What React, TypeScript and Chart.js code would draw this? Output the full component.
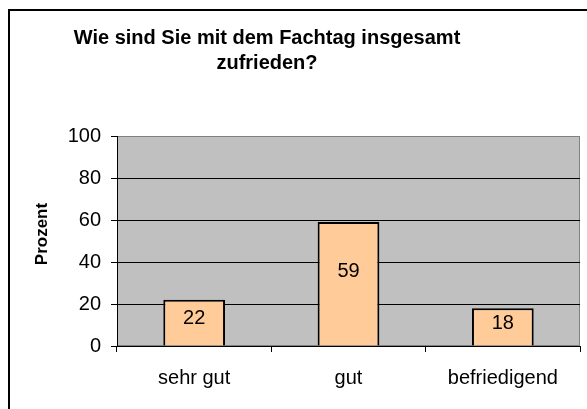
import React, { useEffect, useRef } from "react";
import { Chart, registerables } from "chart.js";

Chart.register(...registerables);

const categories = ["sehr gut", "gut", "befriedigend"];
const values = [22, 59, 18];
const yTickValues = [0, 20, 40, 60, 80, 100];
const titleLines = ["Wie sind Sie mit dem Fachtag insgesamt", "zufrieden?"];
const yTitle = "Prozent";

const FONT = "'Liberation Sans', Arial, sans-serif";

export default function App() {
  const ref = useRef<HTMLCanvasElement>(null);

  useEffect(() => {
    const canvas = ref.current!;
    const decor = {
      id: "decor",
      beforeDraw(chart: any) {
        const { ctx, chartArea: a } = chart;
        ctx.save();
        ctx.fillStyle = "#ffffff";
        ctx.fillRect(0, 0, chart.width, chart.height);
        // frame
        ctx.fillStyle = "#000000";
        ctx.fillRect(8, 9, 2, chart.height);
        ctx.fillRect(8, 9, chart.width, 2);
        // plot area
        ctx.fillStyle = "#C0C0C0";
        ctx.fillRect(a.left, a.top, a.right - a.left, a.bottom - a.top);
        ctx.strokeStyle = "#808080";
        ctx.lineWidth = 1;
        ctx.strokeRect(a.left + 0.5, a.top + 0.5, a.right - a.left - 1, a.bottom - a.top - 1);
        // title
        ctx.fillStyle = "#000000";
        ctx.font = `bold 20px ${FONT}`;
        ctx.textAlign = "center";
        ctx.textBaseline = "alphabetic";
        ctx.fillText(titleLines[0], 267, 44);
        ctx.fillText(titleLines[1], 267, 69);
        // y title
        ctx.font = `bold 17px ${FONT}`;
        ctx.translate(47, 234);
        ctx.rotate(-Math.PI / 2);
        ctx.fillText(yTitle, 0, 0);
        ctx.restore();
      },
      afterDatasetsDraw(chart: any) {
        const { ctx } = chart;
        const meta = chart.getDatasetMeta(0);
        const yScale = chart.scales.y;
        ctx.save();
        ctx.fillStyle = "#000000";
        ctx.font = `20px ${FONT}`;
        ctx.textAlign = "center";
        ctx.textBaseline = "middle";
        meta.data.forEach((bar: any, i: number) => {
          const v = values[i];
          ctx.fillText(String(v), bar.x, yScale.getPixelForValue(v * 0.6));
        });
        ctx.restore();
      },
    };

    const chart = new Chart(canvas, {
      type: "bar",
      data: {
        labels: categories,
        datasets: [
          {
            data: values,
            backgroundColor: "#FFCC99",
            borderColor: "#000000",
            borderWidth: 2,
            categoryPercentage: 1,
            barPercentage: 0.4,
          },
        ],
      },
      options: {
        responsive: false,
        animation: false,
        devicePixelRatio: 1,
        layout: { padding: { top: 136, right: 7, left: 0, bottom: 0 } },
        plugins: {
          legend: { display: false },
          tooltip: { enabled: false },
          title: { display: false },
        },
        scales: {
          x: {
            afterFit: (s: any) => {
              s.height = 63;
            },
            grid: {
              offset: true,
              drawOnChartArea: false,
              drawTicks: true,
              tickLength: 6,
              color: "#000000",
            },
            border: { display: true, color: "#000000", width: 1 },
            ticks: {
              color: "#000000",
              font: { family: FONT, size: 20 },
              padding: 14,
              maxRotation: 0,
            },
          },
          y: {
            min: 0,
            max: 100,
            afterFit: (s: any) => {
              s.width = 117;
            },
            afterBuildTicks: (s: any) => {
              s.ticks = yTickValues.map((v) => ({ value: v }));
            },
            grid: {
              color: (c: any) => (c.tick && c.tick.value === 100 ? "#808080" : "#000000"),
              tickColor: "#000000",
              tickLength: 6,
              lineWidth: 1,
            },
            border: { display: true, color: "#000000", width: 1 },
            ticks: {
              color: "#000000",
              font: { family: FONT, size: 20 },
              padding: 10,
            },
          },
        },
      },
      plugins: [decor],
    });
    return () => chart.destroy();
  }, []);

  return (
    <canvas
      ref={ref}
      width={587}
      height={409}
      style={{ position: "fixed", left: 0, top: 0, width: "587px", height: "409px" }}
    />
  );
}
